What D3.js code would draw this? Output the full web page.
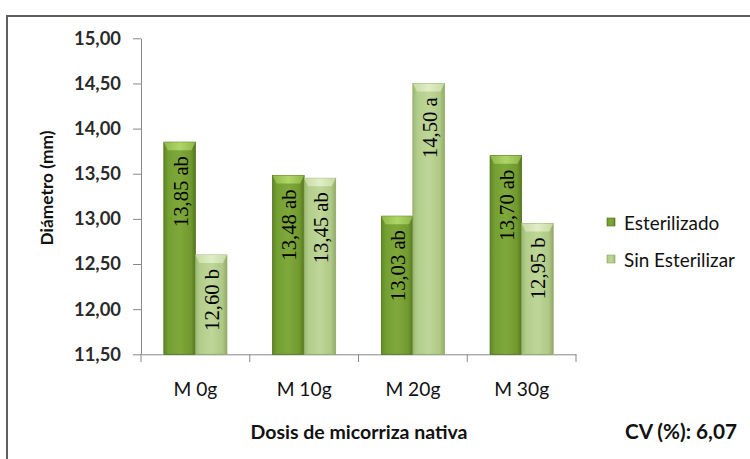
<!DOCTYPE html>
<html><head><meta charset="utf-8">
<script src="https://cdn.jsdelivr.net/npm/d3@7"></script>
<style>body{margin:0;background:#fff}svg{display:block}</style>
</head><body>
<svg id="c" width="750" height="459"></svg>
<script>
const categories = ["M 0g","M 10g","M 20g","M 30g"];
const seriesNames = ["Esterilizado","Sin Esterilizar"];
const esterilizado = [13.85,13.48,13.03,13.70];
const sinEsterilizar = [12.60,13.45,14.50,12.95];
const labelsEst = ["13,85 ab","13,48 ab","13,03 ab","13,70 ab"];
const labelsSin = ["12,60 b","13,45 ab","14,50 a","12,95 b"];
const yTicks = [11.5,12,12.5,13,13.5,14,14.5,15];
const yTitle = "Diámetro (mm)";
const xTitle = "Dosis de micorriza nativa";
const cvText = "CV (%): 6,07";

const svg = d3.select("#c");
const defs = svg.append("defs");
function grad(id, stops){
  const g = defs.append("linearGradient").attr("id",id).attr("x1","0").attr("x2","1").attr("y1","0").attr("y2","0");
  stops.forEach(s=>g.append("stop").attr("offset",s[0]).attr("stop-color",s[1]));
}
grad("g0",[[0,"#5f8a24"],[0.15,"#74a032"],[0.5,"#7ea83c"],[0.85,"#72992f"],[1,"#56781f"]]);
grad("g1",[[0,"#9cba70"],[0.15,"#b3cd8c"],[0.5,"#bed698"],[0.85,"#b0c986"],[1,"#92ad68"]]);
grad("t0",[[0,"#8fba4a"],[0.5,"#b4d86a"],[1,"#8fba4a"]]);
grad("t1",[[0,"#c8dca6"],[0.5,"#e2efc8"],[1,"#c8dca6"]]);

// scale font-size so a text's width matches a target width
function fit(sel, target){
  sel.each(function(){
    const fs = parseFloat(this.style.fontSize);
    const w = this.getComputedTextLength();
    if (w>0) this.style.fontSize = (fs*target/w).toFixed(2)+"px";
  });
}

// frame
svg.append("path").attr("d","M7,470 V16 H760").attr("fill","none").attr("stroke","#5e5e5e").attr("stroke-width",2);

const y = d3.scaleLinear().domain([11.5,15]).range([354.3,38.3]);
const x = d3.scaleBand().domain(categories).range([141,576]).paddingInner(0.42).paddingOuter(0.21);
const xs = d3.scaleBand().domain(seriesNames).range([0,x.bandwidth()]);

const fmt = v => d3.format(".2f")(v).replace(".",",");

// y axis
const ya = svg.append("g").attr("transform","translate(141,0)")
  .call(d3.axisLeft(y).tickValues(yTicks).tickSize(8).tickSizeOuter(0).tickFormat(fmt));
ya.select(".domain").attr("stroke","#888");
ya.selectAll(".tick line").attr("stroke","#888");
ya.selectAll(".tick text").attr("x",-20).attr("fill","#2a2a2a")
  .style("font-family","Lato").style("font-size","17px").style("font-weight","bold");
fit(ya.selectAll(".tick text"), 47);

// x axis
const xa = svg.append("g").attr("transform","translate(0,354.3)")
  .call(d3.axisBottom(x).tickSize(0).tickSizeOuter(0));
xa.select(".domain").attr("stroke","#888");
xa.selectAll(".tick text").attr("dy",0).attr("y",34).attr("dominant-baseline","central").attr("fill","#111")
  .style("font-family","Lato").style("font-size","18px");
fit(xa.selectAll(".tick text").filter(d=>d==="M 10g"), 55);
const xfs = xa.selectAll(".tick text").filter(d=>d==="M 10g").style("font-size");
xa.selectAll(".tick text").style("font-size", xfs);
// x tick marks at band boundaries
const bounds = categories.map(c=>x(c)-x.step()*x.paddingInner()/2).concat([576]);
bounds[0]=141;
svg.append("g").selectAll("line").data(bounds).join("line")
  .attr("x1",d=>d).attr("x2",d=>d).attr("y1",354.3).attr("y2",362).attr("stroke","#888");

// bars
const data = [];
categories.forEach((c,i)=>{
  data.push({c,s:0,v:esterilizado[i],l:labelsEst[i]});
  data.push({c,s:1,v:sinEsterilizar[i],l:labelsSin[i]});
});
const bw = xs.bandwidth();
const bars = svg.append("g").selectAll("g").data(data).join("g")
  .attr("transform",d=>`translate(${x(d.c)+xs(seriesNames[d.s])},0)`);
bars.append("rect").attr("x",0).attr("width",bw).attr("y",d=>y(d.v)).attr("height",d=>y(11.5)-y(d.v))
  .attr("fill",d=>`url(#g${d.s})`).attr("stroke",d=>d.s?"#8ea766":"#4f6f1c").attr("stroke-width",0.8);
bars.append("path").attr("d",d=>{const t=y(d.v);return `M0,${t} H${bw} L${bw-4},${t+8} H4 Z`;})
  .attr("fill",d=>`url(#t${d.s})`).attr("opacity",0.95);
const bl = bars.append("text")
  .attr("transform",d=>`translate(${bw/2+1},${y(d.v)+14}) rotate(-90)`)
  .attr("text-anchor","end").attr("dominant-baseline","central")
  .style("font-family","Liberation Serif").style("font-size","18px").attr("fill","#000")
  .text(d=>d.l);
fit(bl.filter(d=>d.l==="13,85 ab"), 71);
bl.style("font-size", bl.filter(d=>d.l==="13,85 ab").style("font-size"));

// titles
const yt = svg.append("text").attr("transform","translate(46,188) rotate(-90)").attr("text-anchor","middle")
  .attr("dominant-baseline","central").style("font-family","Lato").style("font-weight","bold").style("font-size","16px")
  .attr("fill","#111").text(yTitle);
fit(yt,115);
const xt = svg.append("text").attr("x",359).attr("y",431).attr("text-anchor","middle").attr("dominant-baseline","central")
  .style("font-family","Lato").style("font-weight","bold").style("font-size","16px").attr("fill","#111").text(xTitle);
fit(xt,217);
const cv = svg.append("text").attr("x",681).attr("y",431).attr("text-anchor","middle").attr("dominant-baseline","central")
  .style("font-family","Lato").style("font-weight","bold").style("font-size","16px").attr("fill","#111").text(cvText);
fit(cv,112);

// legend
const lg = svg.append("g").selectAll("g").data(seriesNames).join("g")
  .attr("transform",(d,i)=>`translate(607,${222+i*37})`);
lg.append("rect").attr("x",0).attr("y",-4).attr("width",8).attr("height",8)
  .attr("fill",(d,i)=>`url(#g${i})`).attr("stroke",(d,i)=>i?"#8ea766":"#4f6f1c").attr("stroke-width",0.6);
const lt = lg.append("text").attr("x",17).attr("y",0).attr("dominant-baseline","central")
  .style("font-family","Lato").style("font-size","17px").attr("fill","#111").text(d=>d);
fit(lt.filter(d=>d==="Sin Esterilizar"),111);
lt.style("font-size", lt.filter(d=>d==="Sin Esterilizar").style("font-size"));
</script>
</body></html>
